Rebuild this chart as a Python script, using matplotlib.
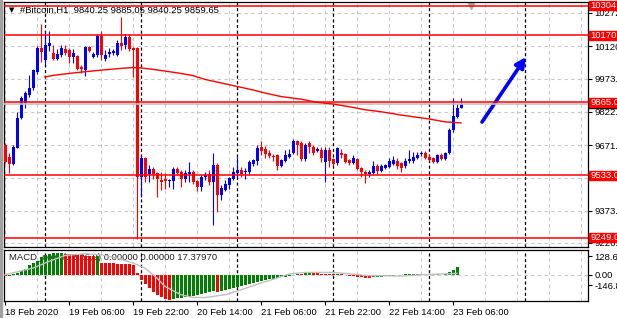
import numpy as np
import pandas as pd
import matplotlib.pyplot as plt
from matplotlib.patches import Rectangle
from matplotlib.transforms import blended_transform_factory

plt.rcParams['font.family'] = ['Liberation Sans', 'DejaVu Sans']

W, H = 617, 318

# ---- hourly candles, 18 Feb 2020 14:00 -> 23 Feb 2020 08:00
opens = [9672, 9617, 9586, 9658, 9795, 9863, 9899, 9931, 10004, 10113,
         10058, 10122, 10090, 10063, 10081, 10108, 10104, 10072, 10077, 10027,
         10013, 10118, 10072, 10081, 10168, 10063, 10085, 10090, 10081, 10136,
         10127, 10163, 10113, 10113, 9527, 9613, 9540, 9563, 9545, 9513,
         9517, 9508, 9508, 9563, 9549, 9517, 9540, 9549, 9508, 9481,
         9527, 9540, 9504, 9581, 9445, 9467, 9490, 9517, 9545, 9558,
         9549, 9549, 9586, 9599, 9663, 9654, 9636, 9622, 9626, 9577,
         9599, 9617, 9636, 9690, 9681, 9608, 9681, 9663, 9645, 9649,
         9595, 9649, 9608, 9590, 9636, 9631, 9604, 9590, 9608, 9568,
         9549, 9540, 9545, 9577, 9554, 9568, 9572, 9586, 9599, 9590,
         9577, 9599, 9599, 9613, 9631, 9636, 9617, 9613, 9595, 9626,
         9608, 9636, 9740, 9799, 9840.25]
highs = [9680, 9636, 9672, 9822, 9895, 9917, 9990, 10018, 10120, 10222,
         10190, 10190, 10127, 10110, 10127, 10127, 10113, 10108, 10081, 10036,
         10122, 10122, 10095, 10177, 10190, 10104, 10113, 10108, 10149, 10254,
         10177, 10177, 10118, 10118, 9626, 9617, 9581, 9572, 9549, 9549,
         9545, 9517, 9572, 9572, 9558, 9558, 9595, 9558, 9513, 9536,
         9549, 9558, 9636, 9590, 9490, 9513, 9527, 9572, 9617, 9572,
         9567, 9604, 9608, 9672, 9690, 9667, 9649, 9631, 9631, 9608,
         9649, 9654, 9699, 9695, 9690, 9681, 9690, 9672, 9663, 9663,
         9663, 9663, 9613, 9663, 9654, 9636, 9608, 9626, 9613, 9572,
         9558, 9558, 9599, 9586, 9586, 9586, 9613, 9622, 9613, 9595,
         9613, 9649, 9640, 9640, 9645, 9645, 9626, 9617, 9631, 9636,
         9640, 9749, 9886, 9858, 9885.05]
lows = [9590, 9545, 9581, 9658, 9790, 9840, 9890, 9922, 9995, 10049,
        10036, 10100, 10058, 10058, 10072, 10081, 10045, 10045, 10013, 10000,
        9985, 10095, 10068, 10072, 10058, 10054, 10072, 10081, 10077, 10104,
        10108, 10100, 9980, 9245, 9435, 9504, 9504, 9517, 9435, 9467,
        9472, 9481, 9472, 9536, 9481, 9504, 9504, 9495, 9463, 9463,
        9513, 9490, 9308, 9367, 9422, 9463, 9472, 9513, 9527, 9527,
        9517, 9540, 9577, 9581, 9626, 9613, 9613, 9599, 9558, 9572,
        9595, 9613, 9631, 9626, 9599, 9599, 9636, 9626, 9640, 9595,
        9504, 9572, 9577, 9581, 9613, 9590, 9581, 9586, 9558, 9527,
        9499, 9527, 9540, 9540, 9549, 9563, 9567, 9581, 9563, 9549,
        9567, 9590, 9590, 9608, 9622, 9608, 9599, 9590, 9590, 9604,
        9604, 9631, 9731, 9795, 9840.25]
closes = [9595, 9586, 9663, 9795, 9886, 9908, 9931, 10013, 10113, 10095,
          10127, 10136, 10063, 10085, 10113, 10090, 10072, 10090, 10018, 10018,
          10118, 10100, 10085, 10168, 10081, 10081, 10095, 10100, 10136, 10122,
          10163, 10108, 10104, 9527, 9613, 9527, 9563, 9540, 9517, 9504,
          9508, 9513, 9563, 9545, 9517, 9545, 9549, 9504, 9481, 9527,
          9536, 9504, 9581, 9445, 9476, 9495, 9522, 9549, 9558, 9540,
          9554, 9595, 9604, 9658, 9645, 9631, 9622, 9617, 9577, 9604,
          9626, 9631, 9690, 9672, 9608, 9672, 9663, 9636, 9654, 9613,
          9649, 9599, 9586, 9658, 9626, 9595, 9590, 9613, 9563, 9549,
          9540, 9549, 9577, 9554, 9577, 9581, 9599, 9604, 9577, 9568,
          9599, 9608, 9617, 9626, 9636, 9613, 9604, 9595, 9626, 9608,
          9636, 9740, 9804, 9840, 9859.65]

# moving average (red line), read at a few bars
ma_bars = [10, 12, 15, 19, 24, 29, 32, 34, 36, 40, 44, 47, 50, 62, 65, 69,
           74, 78, 82, 86, 90, 94, 99, 106, 110, 114]
ma_vals = [9981, 9988, 9995, 10003, 10012, 10020, 10024, 10022, 10018, 10008,
           9997, 9987, 9970, 9922, 9908, 9892, 9880, 9866, 9858, 9846,
           9832, 9823, 9808, 9790, 9777, 9772]

# horizontal levels drawn on the chart
levels = [10304.50, 10170.00, 9865.00, 9533.00, 9249.00]
price_ticks = [10272.9, 10120.6, 9973.3, 9822.0, 9671.6, 9522.3, 9373.0, 9226.7]

# MACD_color histogram and signal
macd_hist = [-10, -10, 5, 12, 23, 41, 64, 81, 97, 119,
             133, 145, 150, 150, 152, 145, 141, 141, 138, 135,
             131, 131, 128, 131, 83, 83, 79, 79, 76, 76,
             76, 72, 69, 14, -35, -66, -93, -117, -138, -155,
             -166, -173, -169, -162, -159, -155, -152, -148, -141, -135,
             -128, -121, -114, -117, -110, -104, -97, -90, -83, -76,
             -69, -62, -55, -48, -41, -35, -31, -28, -24, -17,
             -14, -7, -3, 7, 7, 14, 17, 14, 10, 7,
             7, 3, 3, 7, 3, -3, -7, -10, -14, -17,
             -21, -21, -17, -17, -14, -10, -7, -6, -3, -3,
             2, 3, 5, 6, 5, 3, 2, 1, 2, 1,
             4, 19, 35, 50]
macd_up = "rgggggggggggggg" + "rrrrrrrr" + "g" + "r" * 18 + "g" * 11 + "r" + "g" * 20 + \
          "rggrrrrrrg" + "rrrrrrrr" + "gggggggggggg" + "rrrr" + "grgggg"
sig_bars = [0, 7, 11, 15, 20, 24, 28, 32, 35, 38, 40, 44, 47, 50, 55, 59, 64,
            68, 71, 75, 82, 87, 90, 99, 104, 113]
sig_vals = [0, 46, 92, 133, 145, 138, 115, 81, 46, -23, -81, -138, -157, -157,
            -138, -104, -57, -23, 5, 16, 16, 5, -5, -9, 0, 9]
macd_ticks = [128.66, 0, -71]
macd_labels = ["128.66", "0.00", "-146.80"]

# hand drawn arrow (bar, price)
arrow_tail = (119.25, 9776)
arrow_tip = (130.25, 10072)

n_slots = 146
times = pd.date_range("2020-02-18 14:00", periods=n_slots, freq="h")


def box(x0, y0, x1, y1):
    return [x0 / W, 1 - y1 / H, (x1 - x0) / W, (y1 - y0) / H]


fig = plt.figure(figsize=(W / 100, H / 100), dpi=100)
fig.patches.append(Rectangle((0, 0), 2 / W, 1, transform=fig.transFigure,
                             color="#a0a0a0", zorder=0))

ax = fig.add_axes(box(4, 2, 588, 246.5))
mx = fig.add_axes(box(4, 249.5, 588, 301))

xlim = (-0.25, n_slots - 0.25)
grid_kw = dict(color="#c8c8c8", lw=0.8, ls=(0, (3, 3)))
sep_kw = dict(color="black", lw=0.9, ls=(0, (2.5, 2)), zorder=1.5)
day_breaks = np.where(times.hour == 0)[0]
fs = 6.8

# ---------------- main chart
x = np.arange(len(closes))
o, hi, lo, c = (np.array(v, float) for v in (opens, highs, lows, closes))
col = np.where(c >= o, "#0000ff", "#ff0000")
ax.vlines(x, lo, hi, colors=col, lw=0.8, zorder=3)
ax.bar(x, np.maximum(np.abs(c - o), 4), bottom=np.minimum(o, c), width=0.75,
       color=col, lw=0, zorder=3)

ax.plot(ma_bars, ma_vals, color="#ff0000", lw=1, zorder=4)
ax.axhline(closes[-1], color="#c0c0c0", lw=1.2, zorder=3.5)
for lv in levels:
    ax.axhline(lv, color="#ff0000", lw=1.1, zorder=4)
for d in day_breaks:
    ax.axvline(d, **sep_kw)

ax.set_xlim(*xlim)
ax.set_ylim(9210, 10322)
ax.set_xticks(np.arange(0, n_slots, 8))
ax.set_yticks(price_ticks)
ax.set_yticklabels([f"{v:.2f}" for v in price_ticks])
ax.yaxis.tick_right()
ax.tick_params(axis="x", length=0, labelbottom=False)
ax.tick_params(axis="y", length=3, width=0.8, pad=1.5, labelsize=fs)
ax.set_axisbelow(True)
ax.grid(True, **grid_kw)

# level labels at the right edge
upp = (10322 - 9210) / 244.5  # price units per pixel
tr = ax.get_yaxis_transform()
ax.add_patch(Rectangle((1.0017, closes[-1] - 4.5 * upp), 0.06, 9 * upp, transform=tr,
                       color="black", clip_on=False, zorder=9))
for lv in levels:
    ax.add_patch(Rectangle((1.0017, lv - 4.5 * upp), 0.06, 9 * upp, transform=tr,
                           color="#ff0000", clip_on=False, zorder=10))
    ax.text(1.0045, lv, f"{lv:.2f}", transform=tr, color="white", fontsize=fs,
            va="center", ha="left", clip_on=False, zorder=11)

# chart shift marker and the arrow
ax.plot([len(closes) + 1.5], [0.984], marker="v", ms=5, color="#a8a8a8",
        transform=blended_transform_factory(ax.transData, ax.transAxes), clip_on=False)
ax.annotate("", xy=arrow_tip, xytext=arrow_tail,
            arrowprops=dict(arrowstyle="-|>", color="#0000ff", lw=2.6,
                            mutation_scale=15, shrinkA=0, shrinkB=0))

fig.text(9 / W, 1 - 10 / H, "▼", fontsize=5, family="DejaVu Sans", va="center")
fig.text(20 / W, 1 - 10 / H,
         "#Bitcoin,H1  9840.25 9885.05 9840.25 9859.65".format(),
         fontsize=fs, va="center")

# ---------------- MACD window
mcol = ["#008000" if u == "g" else "#ff0000" for u in macd_up]
mx.bar(np.arange(len(macd_hist)), macd_hist, width=0.75, color=mcol, lw=0, zorder=3)
mx.plot(sig_bars, sig_vals, color="#c0c0c0", lw=1, zorder=4)
mx.axhline(0, **grid_kw, zorder=0.5)
for d in day_breaks:
    mx.axvline(d, **sep_kw)
mx.text(0.009, 0.835, "MACD_color(12,26,9) 0.00000 0.00000 17.37970",
        transform=mx.transAxes, fontsize=fs, color="#202020", va="center", zorder=1)

mx.set_xlim(*xlim)
mx.set_ylim(-181, 174)
mx.set_yticks(macd_ticks)
mx.set_yticklabels(macd_labels)
mx.yaxis.tick_right()
mx.tick_params(axis="y", length=3, width=0.8, pad=1.5, labelsize=fs)

lab_pos = np.arange(0, 113, 16)
lab_txt = [times[0].strftime("%d %b %Y")] + [times[i].strftime("%d %b %H:%M") for i in lab_pos[1:]]
mx.set_xticks(lab_pos)
mx.set_xticklabels(lab_txt)
for t in mx.get_xticklabels():
    t.set_ha("left")
mx.set_xticks(np.arange(0, n_slots, 8), minor=True)
mx.tick_params(axis="x", which="major", length=3, width=0.8, pad=2, labelsize=fs)
mx.tick_params(axis="x", which="minor", length=0)
mx.set_axisbelow(True)
mx.grid(True, axis="x", which="minor", **grid_kw)

for a in (ax, mx):
    for s in a.spines.values():
        s.set_linewidth(0.9)

fig.savefig("out.png", dpi=100)
